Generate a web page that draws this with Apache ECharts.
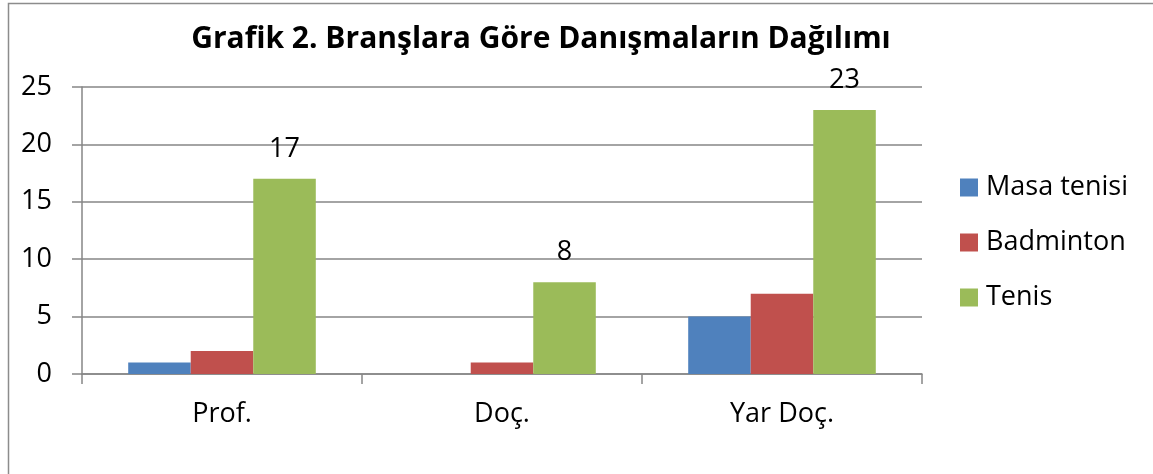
<!DOCTYPE html>
<html>
	<head>
		<meta charset="UTF-8">
		<title></title>
		<script src="https://cdn.jsdelivr.net/npm/echarts@6/dist/echarts.min.js"></script>
	</head>
	<style>
		body{ margin:0; }
		#chart{
			width: 1153px;
			height: 474px;
		}
	</style>
	<body>
		<div id='chart'></div>
	<script>
	var categories = ['Prof.', 'Doç.', 'Yar Doç.'];
	var seriesNames = ['Masa tenisi', 'Badminton', 'Tenis'];
	var masaTenisi = [1, 0, 5];
	var badminton = [2, 1, 7];
	var tenis = [17, 8, 23];
	var colors = ['#4F81BD', '#C0504D', '#9BBB59'];

	var font = 'Open Sans';
	var chart = echarts.init(document.getElementById('chart'));

	function bar(name, data, color, label) {
		return {
			name: name,
			type: 'bar',
			data: data,
			barGap: 0,
			barCategoryGap: '33%',
			itemStyle: { color: color },
			label: {
				show: label,
				position: 'top',
				distance: 16,
				color: '#000',
				fontFamily: font,
				fontSize: 27
			}
		};
	}

	var option = {
		animation: false,
		title: {
			text: 'Grafik 2. Branşlara Göre Danışmaların Dağılımı',
			left: 536,
			textAlign: 'center',
			top: 19,
			textStyle: { fontFamily: font, fontWeight: 'bold', fontSize: 30, color: '#000' }
		},
		graphic: [{
			type: 'rect',
			shape: { x: 8.5, y: 3.5, width: 1300, height: 700 },
			style: { fill: 'none', stroke: '#8c8c8c', lineWidth: 1.5 }
		}],
		legend: {
			orient: 'vertical',
			left: 955,
			top: 169,
			itemGap: 28,
			itemWidth: 18,
			itemHeight: 18,
			icon: 'rect',
			textStyle: { fontFamily: font, fontSize: 27, color: '#000', padding: [0, 0, 0, 3] },
			data: seriesNames
		},
		grid: { left: 82, right: 231, top: 87, bottom: 100 },
		xAxis: {
			type: 'category',
			data: categories,
			axisLine: { lineStyle: { color: '#868686', width: 1.5 } },
			axisTick: { show: true, length: 10, lineStyle: { color: '#868686', width: 1.5 } },
			axisLabel: { margin: 27, color: '#000', fontFamily: font, fontSize: 27 }
		},
		yAxis: {
			type: 'value',
			min: 0,
			max: 25,
			interval: 5,
			axisLine: { show: true, lineStyle: { color: '#868686', width: 1.5 } },
			axisTick: { show: true, length: 10, lineStyle: { color: '#868686', width: 1.5 } },
			axisLabel: { margin: 30, color: '#000', fontFamily: font, fontSize: 27 },
			splitLine: { lineStyle: { color: '#868686', width: 1.5 } }
		},
		series: [
			bar(seriesNames[0], masaTenisi, colors[0], false),
			bar(seriesNames[1], badminton, colors[1], false),
			bar(seriesNames[2], tenis, colors[2], true)
		]
	};

	chart.setOption(option);
	</script>
	</body>
</html>
